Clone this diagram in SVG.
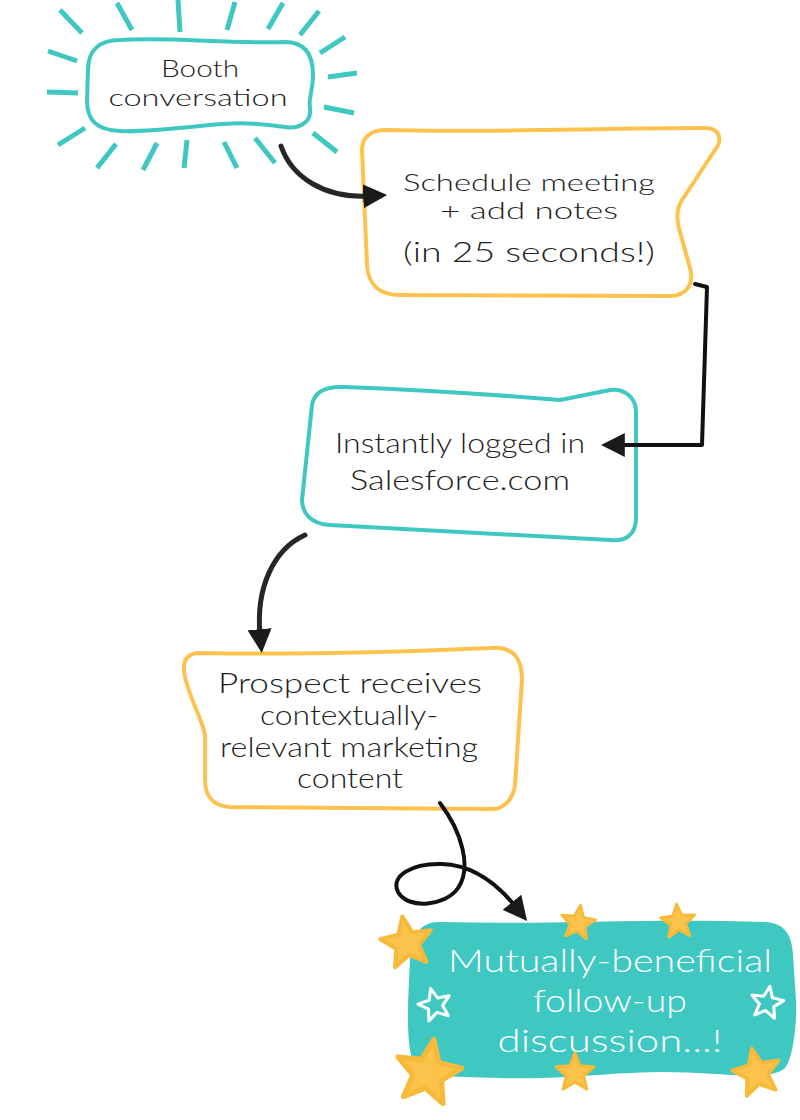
<svg xmlns="http://www.w3.org/2000/svg" xmlns:xlink="http://www.w3.org/1999/xlink" width="800" height="1120" viewBox="0 0 800 1120">
<style>
.bg{fill:#ffffff}
.teal{fill:#ffffff;stroke:#3fc7c1;stroke-width:4;stroke-linejoin:round}
.orange{fill:#ffffff;stroke:#fdc24e;stroke-width:4;stroke-linejoin:round}
.tealfill{fill:#3fc7c1;stroke:none}
.ray{stroke:#3fc7c1;stroke-width:5;stroke-linecap:butt}
.lbl{font-family:Lato,"Liberation Sans",sans-serif;font-weight:300;font-size:28px;fill:#1e1e1e;text-anchor:middle}
.sm{font-size:23px}
.wlbl{font-family:Lato,"Liberation Sans",sans-serif;font-weight:300;font-size:32px;fill:#ffffff;text-anchor:middle}
.conn{fill:none;stroke:#262626;stroke-width:5;stroke-linecap:round;stroke-linejoin:round}
.thin{stroke-width:4;stroke:#111111}
.ystar{fill:#fcc34c;stroke:#f6b93a;stroke-width:1.5;stroke-linejoin:round}
.wstar{fill:none;stroke:#ffffff;stroke-width:1.8;stroke-linejoin:round}
</style>
<defs>
<path id="star" d="M0,-10 L2.6,-3.6 L9.5,-3.1 L4.3,1.4 L5.9,8.1 L0,4.5 L-5.9,8.1 L-4.3,1.4 L-9.5,-3.1 L-2.6,-3.6 Z"/>
<marker id="arr" viewBox="0 0 10 10" refX="2" refY="5" markerWidth="24" markerHeight="24" markerUnits="userSpaceOnUse" orient="auto">
<path d="M0,0 L10,5 L0,10 Z" fill="#1a1a1a"/>
</marker>
</defs>
<rect class="bg" x="0" y="0" width="800" height="1120"/>

<g id="booth">
<line class="ray" x1="60" y1="10" x2="82" y2="33"/>
<line class="ray" x1="117" y1="3" x2="132" y2="30"/>
<line class="ray" x1="178" y1="0" x2="180" y2="32"/>
<line class="ray" x1="235" y1="2" x2="227" y2="30"/>
<line class="ray" x1="283" y1="3" x2="268" y2="29"/>
<line class="ray" x1="319" y1="11" x2="300" y2="35"/>
<line class="ray" x1="345" y1="37" x2="320" y2="53"/>
<line class="ray" x1="357" y1="73" x2="328" y2="77"/>
<line class="ray" x1="354" y1="113" x2="324" y2="107"/>
<line class="ray" x1="337" y1="152" x2="313" y2="133"/>
<line class="ray" x1="275" y1="163" x2="255" y2="138"/>
<line class="ray" x1="237" y1="168" x2="224" y2="142"/>
<line class="ray" x1="184" y1="168" x2="187" y2="140"/>
<line class="ray" x1="143" y1="170" x2="157" y2="143"/>
<line class="ray" x1="97" y1="168" x2="116" y2="144"/>
<line class="ray" x1="58" y1="145" x2="85" y2="128"/>
<line class="ray" x1="47" y1="92" x2="78" y2="93"/>
<line class="ray" x1="48" y1="51" x2="77" y2="61"/>
<path class="teal" d="M120,40 C170,37 230,44 285,42 C305,42 313,55 313,75 C313,90 308,100 310,108 C312,124 297,129 285,127 C262,124 245,121 200,126 C160,130 135,132 120,131 C96,130 87,120 87,100 L88,70 C88,50 100,40 120,40 Z"/>
<text class="lbl sm" x="200" y="77" textLength="78" lengthAdjust="spacingAndGlyphs">Booth</text>
<text class="lbl sm" x="198" y="106" textLength="179" lengthAdjust="spacingAndGlyphs">conversation</text>
</g>

<g id="schedule">
<path class="orange" d="M385,130 C480,133 600,128 705,128 C720,128 723,140 715,150 L682,200 C676,210 676,220 680,232 L690,268 C695,285 685,296 670,296 L400,295 C380,295 368,285 367,265 L362,150 C362,138 370,130 385,130 Z"/>
<text class="lbl sm" x="529" y="191" textLength="252" lengthAdjust="spacingAndGlyphs">Schedule meeting</text>
<text class="lbl sm" x="529" y="219" textLength="178" lengthAdjust="spacingAndGlyphs">+ add notes</text>
<text class="lbl" x="529" y="262" textLength="252" lengthAdjust="spacingAndGlyphs">(in 25 seconds!)</text>
</g>

<g id="logged">
<path class="teal" d="M345,387 C420,390 500,395 560,400 L610,390 C625,388 636,398 636,412 L636,518 C636,535 625,542 610,540 L330,525 C310,524 302,512 302,500 L312,405 C314,392 325,386 345,387 Z"/>
<text class="lbl" x="460" y="453" textLength="250" lengthAdjust="spacingAndGlyphs">Instantly logged in</text>
<text class="lbl" x="460" y="490" textLength="220" lengthAdjust="spacingAndGlyphs">Salesforce.com</text>
</g>

<g id="prospect">
<path class="orange" d="M200,653 C300,655 400,652 490,648 C515,646 522,660 522,680 L515,785 C513,800 503,810 490,809 L230,807 C212,806 205,795 205,780 L205,735 C203,720 185,690 184,670 C183,658 190,653 200,653 Z"/>
<text class="lbl" x="350" y="693" textLength="264" lengthAdjust="spacingAndGlyphs">Prospect receives</text>
<text class="lbl" x="349" y="725" textLength="178" lengthAdjust="spacingAndGlyphs">contextually-</text>
<text class="lbl" x="349" y="757" textLength="258" lengthAdjust="spacingAndGlyphs">relevant marketing</text>
<text class="lbl" x="350" y="788" textLength="106" lengthAdjust="spacingAndGlyphs">content</text>
</g>

<g id="followup">
<path class="tealfill" d="M440,922 C550,925 650,918 765,922 C785,923 792,935 793,955 L796,1000 C797,1030 792,1060 785,1068 C770,1082 720,1072 660,1072 C600,1073 560,1080 500,1078 C450,1076 425,1078 415,1065 C405,1050 408,1000 410,960 C411,935 420,922 440,922 Z"/>
<text class="wlbl" x="610" y="972" textLength="324" lengthAdjust="spacingAndGlyphs">Mutually-beneficial</text>
<text class="wlbl" x="610" y="1012" textLength="154" lengthAdjust="spacingAndGlyphs">follow-up</text>
<text class="wlbl" x="610" y="1052" textLength="225" lengthAdjust="spacingAndGlyphs">discussion...!</text>
<use xlink:href="#star" class="ystar" transform="translate(407,943) rotate(-10) scale(2.7)"/>
<use xlink:href="#star" class="ystar" transform="translate(578,923) rotate(8) scale(1.8)"/>
<use xlink:href="#star" class="ystar" transform="translate(678,922) rotate(-5) scale(1.8)"/>
<use xlink:href="#star" class="ystar" transform="translate(428,1073) rotate(10) scale(3.4)"/>
<use xlink:href="#star" class="ystar" transform="translate(575,1073) rotate(0) scale(2)"/>
<use xlink:href="#star" class="ystar" transform="translate(757,1073) rotate(-12) scale(2.5)"/>
<use xlink:href="#star" class="wstar" transform="translate(435,1005) rotate(-15) scale(1.7)"/>
<use xlink:href="#star" class="wstar" transform="translate(767,1003) rotate(10) scale(1.7)"/>
</g>

<g id="connectors">
<path class="conn" d="M281,146 C292,178 325,198 368,196" marker-end="url(#arr)"/>
<path class="conn thin" d="M695,284 L707,287 L702,445 L620,445" marker-end="url(#arr)"/>
<path class="conn" d="M305,535 C272,550 256,590 260,634" marker-end="url(#arr)"/>
<path class="conn thin" d="M440,803 C462,832 472,868 458,888 C446,906 408,910 398,892 C390,876 412,863 442,864 C470,865 494,880 515,906" marker-end="url(#arr)"/>
</g>
</svg>
